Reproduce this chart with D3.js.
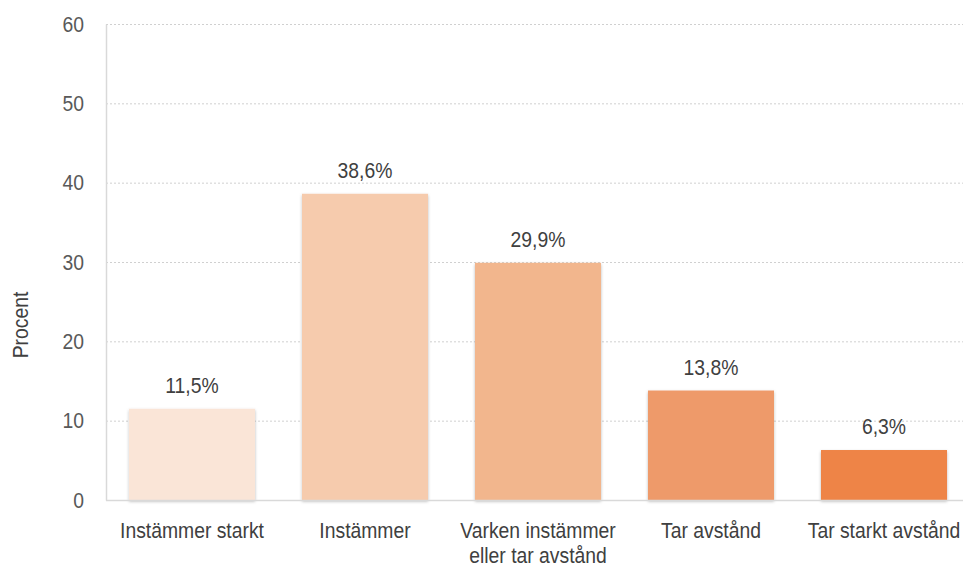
<!DOCTYPE html>
<html><head><meta charset="utf-8">
<script src="https://cdn.jsdelivr.net/npm/d3@7"></script>
<style>body{margin:0;background:#fff}svg{display:block}</style>
</head><body>
<svg id="c" width="963" height="568"></svg>
<script>
const categories = [["Instämmer starkt"],["Instämmer"],["Varken instämmer","eller tar avstånd"],["Tar avstånd"],["Tar starkt avstånd"]];
const values = [11.5, 38.6, 29.9, 13.8, 6.3];
const labels = ["11,5%","38,6%","29,9%","13,8%","6,3%"];
const colors = ["#FAE5D7","#F6CBAD","#F2B68D","#EE9A6A","#EE8446"];
const yTicks = [0,10,20,30,40,50,60];

const font = "'Liberation Sans Narrow','Arial Narrow','Liberation Sans',sans-serif";
const FS = 21.5, SX = 0.9;
const svg = d3.select("#c");
const defs = svg.append("defs");
const f = defs.append("filter").attr("id","sh").attr("x","-10%").attr("y","-10%").attr("width","130%").attr("height","130%");
f.append("feDropShadow").attr("dx",0).attr("dy",1.5).attr("stdDeviation",1.5).attr("flood-color","#000").attr("flood-opacity",0.28);

function label(g, x, y, txt, anchor, fill, rot){
  return g.append("text").attr("transform",`translate(${x},${y})${rot?` rotate(${rot})`:""} scale(${SX},1)`)
    .attr("text-anchor",anchor).attr("font-family",font).attr("font-size",FS).attr("fill",fill).text(txt);
}

const y = d3.scaleLinear().domain([0,60]).range([500,24]);
const x = d3.scaleBand().domain(d3.range(values.length)).range([105.5,970.5]).paddingInner(0.2717).paddingOuter(0.1358);

// gridlines
svg.append("g").selectAll("line").data(yTicks.filter(d=>d>0)).join("line")
  .attr("x1",106).attr("x2",963).attr("y1",d=>y(d)+0.5).attr("y2",d=>y(d)+0.5)
  .attr("stroke","#d0d0d0").attr("stroke-width",1).attr("stroke-dasharray","2,2");

// y axis line
const ya = svg.append("g").attr("transform","translate(106,0)").call(d3.axisLeft(y).tickValues(yTicks).tickSize(0).tickFormat(""));
ya.select(".domain").attr("stroke","#d9d9d9").attr("stroke-width",1.5);
const tg = svg.append("g");
yTicks.forEach(t=>label(tg, 84, y(t)+7.5, String(t), "end", "#595959"));

// bars
svg.append("g").selectAll("rect").data(values).join("rect")
  .attr("x",(d,i)=>x(i)).attr("width",x.bandwidth())
  .attr("y",d=>y(d)).attr("height",d=>y(0)-y(d))
  .attr("fill",(d,i)=>colors[i]).attr("filter","url(#sh)");

// x baseline
svg.append("line").attr("x1",106).attr("x2",963).attr("y1",500.5).attr("y2",500.5).attr("stroke","#d9d9d9").attr("stroke-width",1.5);

// value labels
const vg = svg.append("g");
values.forEach((v,i)=>label(vg, x(i)+x.bandwidth()/2, y(v)-16, labels[i], "middle", "#404040"));

// category labels
const cg = svg.append("g");
categories.forEach((lines,i)=>{
  lines.forEach((l,j)=>label(cg, x(i)+x.bandwidth()/2, 538+j*25, l, "middle", "#404040"));
});

// y title
label(svg, 28, 325, "Procent", "middle", "#404040", -90);
</script>
</body></html>
